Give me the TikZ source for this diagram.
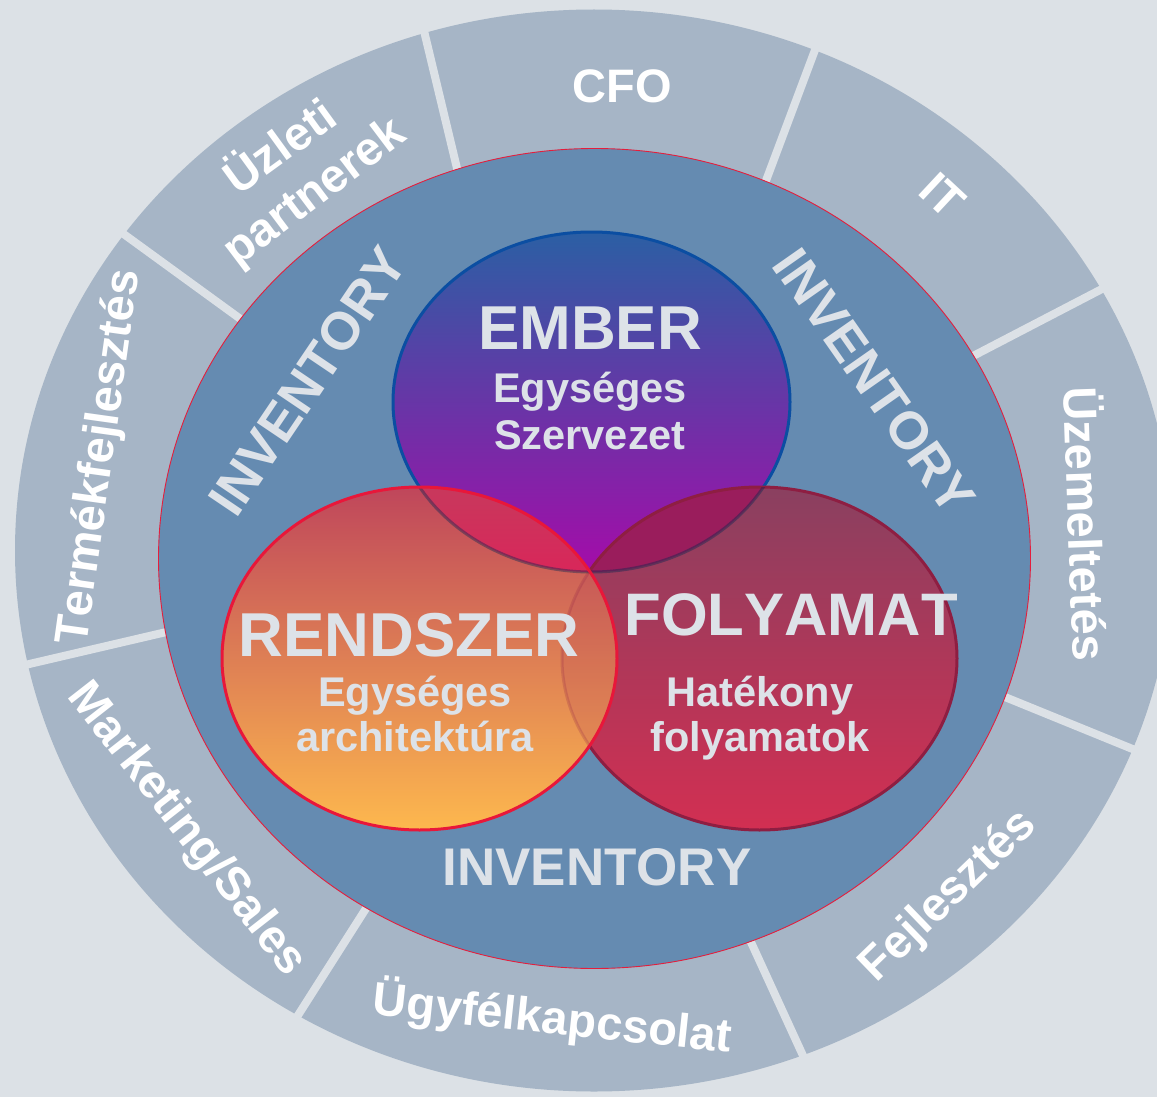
\documentclass[tikz,border=0pt]{standalone}
\usepackage{fontspec}
\setmainfont{Liberation Sans}[Kerning=Off]
\usetikzlibrary{calc}
\definecolor{bg}{HTML}{DCE1E6}
\definecolor{ringc}{HTML}{A6B5C6}
\definecolor{innerc}{HTML}{658BB1}
\definecolor{innerred}{HTML}{E41E3C}
\definecolor{txtlight}{HTML}{DDE2E8}
\definecolor{embTop}{HTML}{2B5FA4}
\definecolor{embMid}{HTML}{6E47A4}
\definecolor{embBot}{HTML}{A40CA9}
\definecolor{embBorder}{HTML}{0B4EA2}
\definecolor{folTop}{HTML}{8A4060}
\definecolor{folMid}{HTML}{AE3759}
\definecolor{folBot}{HTML}{D22F52}
\definecolor{folBorder}{HTML}{8E1E42}
\definecolor{renTop}{HTML}{BF465B}
\definecolor{renMid}{HTML}{E28A53}
\definecolor{renBot}{HTML}{FDB84E}
\definecolor{renBorder}{HTML}{E8173A}
\definecolor{ovEF}{HTML}{9A1D5C}
\definecolor{ovERtop}{HTML}{C8385C}
\definecolor{ovERbot}{HTML}{D9265A}
\begin{document}
\begin{tikzpicture}[x=1pt,y=-1pt,
  lbl/.style={text=white, font=\bfseries\fontsize{47}{56}\selectfont, inner sep=0pt, text height=33.7pt, text depth=0pt},
  inv/.style={text=txtlight, font=\bfseries\fontsize{53}{60}\selectfont, inner sep=0pt, text height=38pt, text depth=0pt},
  big/.style={text=txtlight, font=\bfseries\fontsize{62}{70}\selectfont, inner sep=0pt, text height=44.4pt, text depth=0pt},
  bigf/.style={text=txtlight, font=\bfseries\fontsize{60}{68}\selectfont, inner sep=0pt, text height=43pt, text depth=0pt},
  sub/.style={text=txtlight, font=\bfseries\fontsize{41.5}{48}\selectfont, inner sep=0pt, text height=29.7pt, text depth=0pt},
  gap/.style={draw=bg, line width=8pt},
  faintemb/.style={draw=embBorder!50!black, draw opacity=0.4, line width=3pt},
]
\useasboundingbox (0,0) rectangle (1157,1097);
\fill[bg] (0,0) rectangle (1157,1097);
% outer ring
\fill[ringc] (594,550.5) ellipse [x radius=579pt, y radius=541pt];
% separators
\foreach \a/\b/\c/\d in {455/160/425/35, 770/170/815/50, 975/355/1100/290, 1000/695/1135/750, 750/940/805/1060, 365/910/295/1020, 175/630/25/665, 235/315/125/235}
  \draw[gap] ($(\a,\b)!-0.3!(\c,\d)$) -- ($(\a,\b)!1.4!(\c,\d)$);
% inner circle
\path[fill=innerc, draw=innerred, line width=0.9pt] (594.5,558.5) ellipse [x radius=436pt, y radius=410pt];
% EMBER
\shade[top color=embTop, middle color=embMid, bottom color=embBot] (591.5,402) ellipse [x radius=198.5pt, y radius=170pt];
\draw[embBorder, line width=3pt] (591.5,402) ellipse [x radius=198.5pt, y radius=170pt];
% FOLYAMAT
\shade[top color=folTop, middle color=folMid, bottom color=folBot] (759.5,658.5) ellipse [x radius=197.5pt, y radius=171.5pt];
\begin{scope}
  \clip (591.5,402) ellipse [x radius=198.5pt, y radius=170pt];
  \fill[ovEF] (759.5,658.5) ellipse [x radius=197.5pt, y radius=171.5pt];
\end{scope}
\draw[folBorder, line width=3pt] (759.5,658.5) ellipse [x radius=197.5pt, y radius=171.5pt];
\begin{scope}
  \clip (759.5,658.5) ellipse [x radius=197.5pt, y radius=171.5pt];
  \draw[faintemb] (591.5,402) ellipse [x radius=198.5pt, y radius=170pt];
\end{scope}
% RENDSZER
\shade[top color=renTop, middle color=renMid, bottom color=renBot] (419.5,658.5) ellipse [x radius=197.5pt, y radius=171.5pt];
\begin{scope}
  \clip (591.5,402) ellipse [x radius=198.5pt, y radius=170pt];
  \clip (419.5,658.5) ellipse [x radius=197.5pt, y radius=171.5pt];
  \shade[top color=ovERtop, bottom color=ovERbot] (380,487) rectangle (640,575);
\end{scope}
\begin{scope}
  \clip (419.5,658.5) ellipse [x radius=197.5pt, y radius=171.5pt];
  \fill[folMid, fill opacity=0.18] (759.5,658.5) ellipse [x radius=197.5pt, y radius=171.5pt];
  \draw[folBorder, draw opacity=0.22, line width=3pt] (759.5,658.5) ellipse [x radius=197.5pt, y radius=171.5pt];
  \draw[faintemb] (591.5,402) ellipse [x radius=198.5pt, y radius=170pt];
\end{scope}
\draw[renBorder, line width=3pt] (419.5,658.5) ellipse [x radius=197.5pt, y radius=171.5pt];
% Venn texts
\node[big] (ember) at (590,327) {EMBER};
\node[sub] (emb1) at (590,388) {Egységes};
\node[sub] (emb2) at (590,435) {Szervezet};
\node[big] (rendszer) at (409,634) {RENDSZER};
\node[sub] (ren1) at (415,692) {Egységes};
\node[sub] (ren2) at (415,737) {architektúra};
\node[bigf] (folyamat) at (791,614) {FOLYAMAT};
\node[sub] (fol1) at (760,692) {Hatékony};
\node[sub] (fol2) at (760,737) {folyamatok};
% inventory
\node[inv] (invB) at (597,866) {INVENTORY};
\node[inv, rotate=56] (invL) at (307,381) {INVENTORY};
\node[inv, rotate=-55] (invR) at (875,381) {INVENTORY};
% outer labels
\node[lbl] (cfo) at (622,86) {CFO};
\node[lbl, rotate=-43] (it) at (943,195) {IT};
\node[lbl, rotate=-88] (uzem) at (1085,524) {Üzemeltetés};
\node[lbl, rotate=44] (fejl) at (946,893) {Fejlesztés};
\node[lbl, rotate=-6] (ugyf) at (553,1017) {Ügyfélkapcsolat};
\node[lbl, rotate=-52] (mark) at (190,827) {Marketing/Sales};
\node[lbl, rotate=82] (term) at (96,457) {Termékfejlesztés};
\node[lbl, rotate=36] (uzl1) at (279,146) {Üzleti};
\node[lbl, rotate=37] (uzl2) at (313,190) {partnerek};
\end{tikzpicture}
\end{document}
